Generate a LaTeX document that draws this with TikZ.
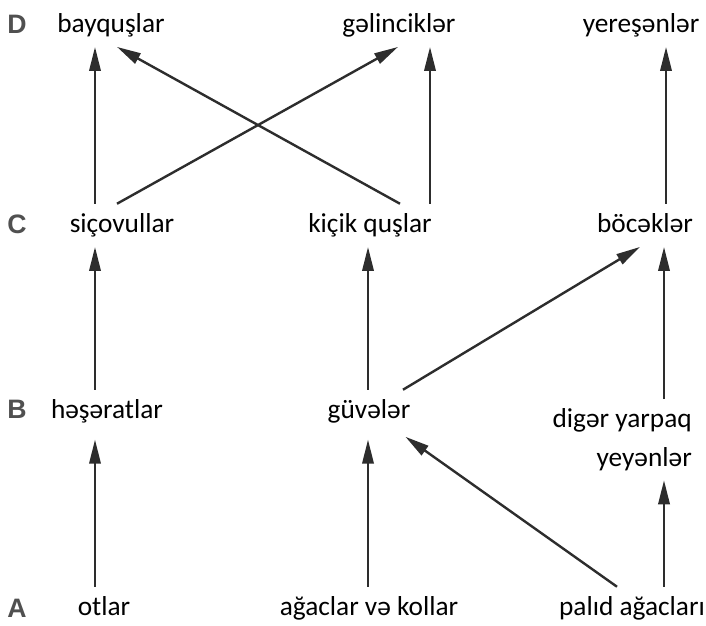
\documentclass[tikz,border=0pt]{standalone}
\usepackage{fontspec}
\setmainfont{Carlito}
\newfontfamily\levelfont{Liberation Sans}
\usetikzlibrary{arrows.meta}
\definecolor{levelgray}{RGB}{80,80,80}
\definecolor{arrowgray}{RGB}{45,45,45}
\begin{document}
\begin{tikzpicture}[x=0.75pt,y=0.75pt,yscale=-1,xscale=1,
  lbl/.style={font=\fontsize{20.5}{29}\selectfont, inner xsep=0pt, inner ysep=6pt, text height=15pt, text depth=5pt, anchor=base},
  lvl/.style={font=\levelfont\bfseries\fontsize{20}{22}\selectfont, text=levelgray, inner sep=0pt, anchor=base west},
  arr/.style={draw=arrowgray, line width=1.8pt, -{Triangle[length=18pt,width=8.5pt]}}]
\useasboundingbox (0,0) rectangle (706,625);

% level letters
\node[lvl] (lvlD) at (7,33) {D};
\node[lvl] (lvlC) at (7,233) {C};
\node[lvl] (lvlB) at (7,418) {B};
\node[lvl] (lvlA) at (7,617) {A};

% D row
\node[lbl] (bay) at (111,32) {bayquşlar};
\node[lbl] (gel) at (399,32) {gəlinciklər};
\node[lbl] (yer) at (641,32) {yereşənlər};
% C row
\node[lbl] (sic) at (122,232) {siçovullar};
\node[lbl] (kic) at (370,232) {kiçik quşlar};
\node[lbl] (boc) at (645,232) {böcəklər};
% B row
\node[lbl] (hes) at (107,418) {həşəratlar};
\node[lbl] (guv) at (369,418) {güvələr};
\node[font=\fontsize{20.5}{29}\selectfont, align=right, inner xsep=0pt, inner ysep=7pt, anchor=north east] (dig) at (692,399) {digər yarpaq\\yeyənlər};
% A row
\node[lbl] (otl) at (104,615) {otlar};
\node[lbl] (aga) at (369,615) {ağaclar və kollar};
\node[lbl] (pal) at (632,615) {palıd ağacları};

% A -> B
\draw[arr, shorten >=5pt] (95,0 |- otl.north) -- (95,0 |- hes.south);
\draw[arr, shorten >=5pt] (368,0 |- aga.north) -- (368,0 |- guv.south);
\draw[arr, shorten >=5pt] (617,0 |- pal.north) -- (400,0 |- guv.south);
\draw[arr] (664,0 |- pal.north) -- (664,0 |- dig.south);
% B -> C
\draw[arr] (95,0 |- hes.north) -- (95,0 |- sic.south);
\draw[arr] (368,0 |- guv.north) -- (368,0 |- kic.south);
\draw[arr] (403,0 |- guv.north) -- (640,0 |- boc.south);
\draw[arr] (664,0 |- dig.north) -- (664,0 |- boc.south);
% C -> D
\draw[arr] (95,0 |- sic.north) -- (95,0 |- bay.south);
\draw[arr] (117,0 |- sic.north) -- (398,0 |- gel.south);
\draw[arr] (400,0 |- kic.north) -- (117,0 |- bay.south);
\draw[arr] (430,0 |- kic.north) -- (430,0 |- gel.south);
\draw[arr] (666,0 |- boc.north) -- (666,0 |- yer.south);

\end{tikzpicture}
\end{document}
